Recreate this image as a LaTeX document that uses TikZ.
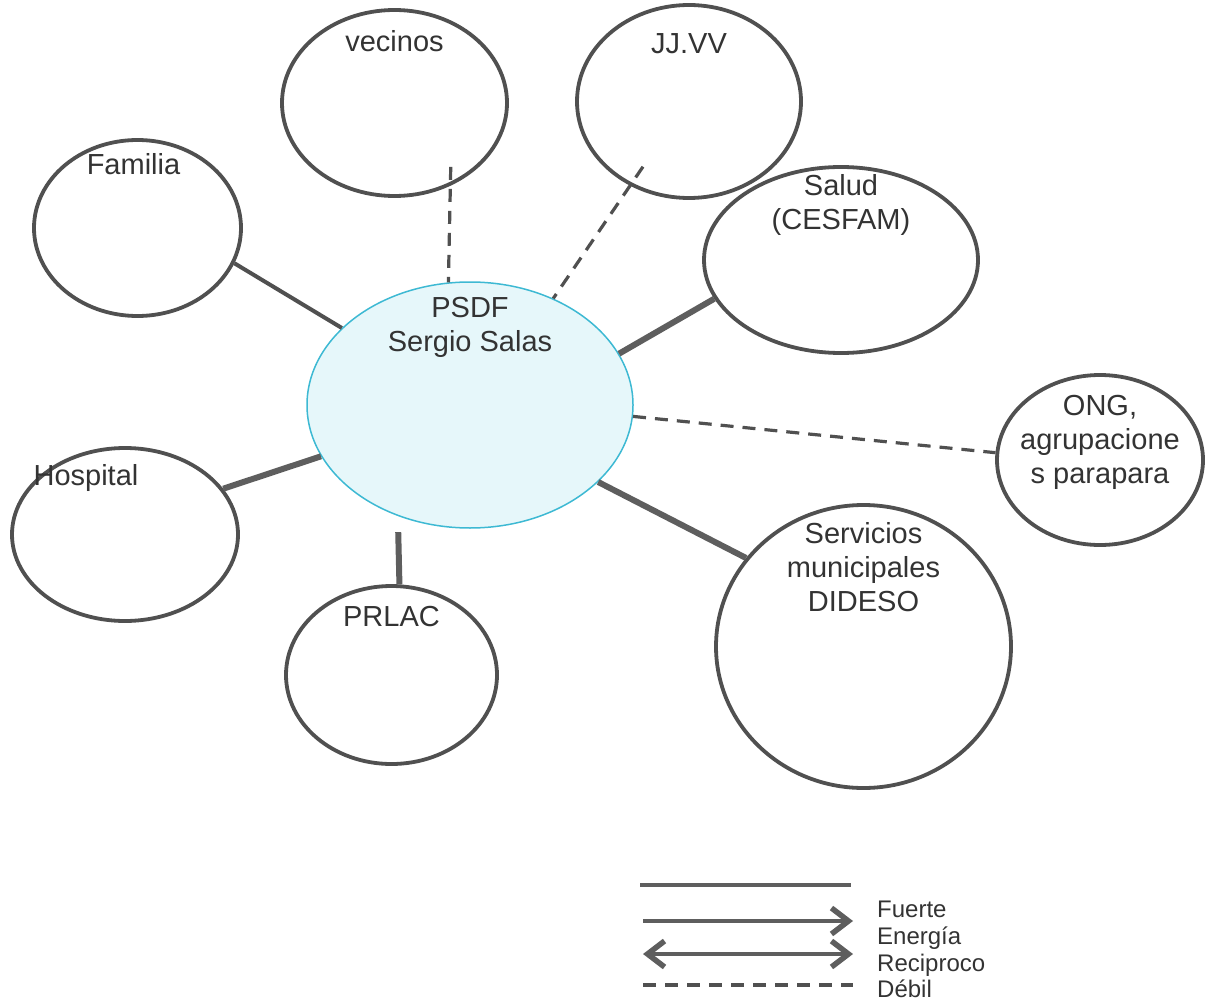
\documentclass[tikz,border=0pt]{standalone}
\usepackage{fontspec}
\setmainfont{Liberation Sans}
\usetikzlibrary{shapes.geometric,positioning,arrows.meta}
\definecolor{borde}{HTML}{505050}
\definecolor{centro}{HTML}{E6F7FA}
\definecolor{cian}{HTML}{3DB9D3}
\definecolor{texto}{HTML}{333333}
\definecolor{barra}{HTML}{5E5E5E}
\tikzset{punta/.tip={Straight Barb[length=17pt,width=26pt,line width=5.5pt]}}
\begin{document}
\begin{tikzpicture}[x=1pt,y=-1pt,
  actor/.style={ellipse,draw=borde,line width=3.8pt,inner sep=0pt,fill=white},
  lbl/.style={inner sep=0pt,align=center,text=texto,font=\fontsize{29}{34}\selectfont},
  fuerte/.style={draw=barra,line width=6pt},
  debil/.style={draw=borde,line width=3.2pt,dash pattern=on 13pt off 9pt},
  leyenda/.style={draw=barra,line width=4.5pt}]
\useasboundingbox (0,0) rectangle (1212,1000);
\node[actor,fill=centro,draw=cian,line width=1.5pt,minimum width=326pt,minimum height=246pt] (psdf) at (470,405) {};
\node[actor,minimum width=225pt,minimum height=186pt] (vec) at (394.5,103) {};
\node[actor,minimum width=224pt,minimum height=193pt] (jjvv) at (689,101.5) {};
\node[actor,minimum width=207pt,minimum height=176pt] (fam) at (137.5,228) {};
\node[actor,minimum width=274pt,minimum height=186pt] (salud) at (841,260) {};
\node[actor,minimum width=206pt,minimum height=170pt] (ong) at (1100,460) {};
\node[actor,minimum width=226pt,minimum height=173pt] (hosp) at (125,534.5) {};
\node[actor,minimum width=211pt,minimum height=178pt] (prlac) at (391.5,675) {};
\node[actor,minimum width=295pt,minimum height=283pt] (serv) at (863.5,646.5) {};

\node[lbl,below=16pt of psdf.north] (psdflbl) {PSDF\\Sergio Salas};
\node[lbl,below=22pt of vec.north] (veclbl) {vecinos};
\node[lbl,below=30pt of jjvv.north] (jjvvlbl) {JJ.VV};
\node[lbl,below=15pt of fam.north,xshift=-4pt] (famlbl) {Familia};
\node[lbl,below=9pt of salud.north] (saludlbl) {Salud\\(CESFAM)};
\node[lbl,below=22pt of ong.north] (onglbl) {ONG,\\agrupacione\\s parapara};
\node[lbl,below=18pt of hosp.north,xshift=-39pt] (hosplbl) {Hospital};
\node[lbl,below=22pt of prlac.north] (prlaclbl) {PRLAC};
\node[lbl,below=19pt of serv.north] (servlbl) {Servicios\\municipales\\DIDESO};

\draw[draw=borde,line width=4pt] (fam.-20) -- (psdf.149);
\draw[debil,shorten <=-19pt] (vec.-56) -- (psdf.100);
\draw[debil,shorten <=-23pt] (jjvv.235) -- (psdf.52);
\draw[fuerte] (psdf.19) -- (salud.-163);
\draw[debil] (psdf.-4) -- (ong.176);
\draw[fuerte] (psdf.-31) -- (serv.143);
\draw[fuerte] (hosp.25) -- (psdf.-161);
\draw[fuerte,shorten <=16pt] (psdf.-123) -- (prlac.85);

\coordinate (fa) at (640,885); \coordinate (fb) at (851,885);
\coordinate (ea) at (643,921); \coordinate (eb) at (853,921);
\coordinate (ra) at (643,954); \coordinate (rb) at (853,954);
\coordinate (da) at (643,985); \coordinate (db) at (853,985);
\draw[leyenda] (fa) -- (fb);
\draw[leyenda,-punta] (ea) -- (eb);
\draw[leyenda,punta-punta] (ra) -- (rb);
\draw[debil] (da) -- (db);
\node[anchor=north west,inner sep=0pt,align=left,text=texto,font=\fontsize{24}{26.7}\selectfont] (leyendalbl) at (877,901) {Fuerte\\Energía\\Reciproco\\Débil};
\end{tikzpicture}
\end{document}
